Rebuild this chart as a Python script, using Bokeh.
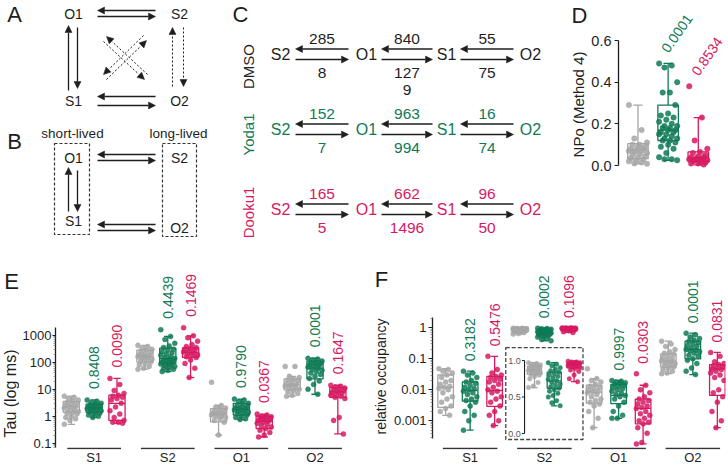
import math
from bokeh.plotting import figure
from bokeh.models import (Range1d, Arrow, NormalHead, FixedTicker,
                          PrintfTickFormatter, ColumnDataSource, LinearScale)
from bokeh.layouts import column, row
from bokeh.embed import file_html
from bokeh.resources import INLINE
from bokeh.core.properties import value

FONT = "Liberation Sans"
INK = "#1e1e1e"
GRAY = "#a6a6a6"
GREEN = "#0f7a55"
MAGENTA = "#d61a62"
GROUP_COLORS = [GRAY, GREEN, MAGENTA]

# ======================= DATA =======================
conditions = ["DMSO", "Yoda1", "Dooku1"]
condition_colors = [INK, GREEN, MAGENTA]
states = ["S1", "S2", "O1", "O2"]

# Panel C: transition rates per condition (DMSO, Yoda1, Dooku1)
rate_O1_to_S2 = [285, 152, 165]
rate_S2_to_O1 = [8, 7, 5]
rate_S1_to_O1 = [840, 963, 662]
rate_O1_to_S1 = [1279, 994, 1496]
rate_O2_to_S1 = [55, 16, 96]
rate_S1_to_O2 = [75, 74, 50]

# Panel D: NPo (Method 4)
npo_dmso = [0.29, 0.17, 0.13, 0.11, 0.10, 0.10, 0.09, 0.09, 0.08, 0.08, 0.075, 0.07,
            0.07, 0.065, 0.06, 0.055, 0.05, 0.045, 0.04, 0.035, 0.03, 0.025, 0.02,
            0.015, 0.01, 0.008]
npo_yoda1 = [0.49, 0.48, 0.47, 0.40, 0.35, 0.35, 0.29, 0.25, 0.24, 0.23, 0.22, 0.21,
             0.20, 0.19, 0.19, 0.18, 0.18, 0.17, 0.17, 0.16, 0.16, 0.15, 0.15, 0.14,
             0.13, 0.13, 0.12, 0.12, 0.11, 0.10, 0.09, 0.08, 0.06, 0.04, 0.03, 0.03, 0.025]
npo_dooku1 = [0.38, 0.23, 0.12, 0.08, 0.065, 0.06, 0.05, 0.045, 0.04, 0.04, 0.035, 0.03,
              0.03, 0.025, 0.025, 0.02, 0.02, 0.015, 0.01, 0.01, 0.005]
# box stats: (whisker low, q1, median, q3, whisker high)
npo_box = [(0.008, 0.033, 0.075, 0.105, 0.29),
           (0.025, 0.12, 0.17, 0.29, 0.49),
           (0.003, 0.02, 0.038, 0.065, 0.23)]
npo_pvalues = ["", "0.0001", "0.8534"]
npo_ticks = [0.0, 0.2, 0.4, 0.6]

# Panel E: Tau (ms)
tau_S1_dmso = [5.5, 5.0, 4.5, 4.0, 3.6, 3.2, 3.0, 2.8, 2.5, 2.3, 2.2, 2.0, 1.8, 1.6, 1.5,
               1.4, 1.3, 1.2, 1.0, 0.9, 0.8, 0.7, 0.5]
tau_S1_yoda1 = [4.0, 3.6, 3.2, 3.0, 2.8, 2.6, 2.4, 2.3, 2.2, 2.1, 2.0, 1.9, 1.8, 1.7, 1.6,
                1.5, 1.4, 1.3, 1.2, 1.1, 1.0, 0.9]
tau_S1_dooku1 = [25, 15, 9, 7, 6, 5.5, 5, 4.5, 4, 3, 2.2, 1.6, 1.2, 0.9, 0.7, 0.6, 0.6, 0.55]
tau_S2_dmso = [420, 380, 330, 300, 280, 250, 230, 210, 190, 180, 170, 160, 150, 140, 130,
               120, 110, 100, 90, 80, 70, 60, 55]
tau_S2_yoda1 = [1600, 900, 700, 500, 400, 350, 300, 280, 250, 220, 200, 180, 160, 150, 140,
                130, 120, 115, 110, 100, 95, 90, 85, 80, 75, 70, 65, 60, 55, 50, 45]
tau_S2_dooku1 = [1900, 950, 800, 600, 450, 380, 350, 320, 300, 280, 260, 240, 220, 200, 190,
                 180, 160, 150, 120, 90, 60, 27]
tau_O1_dmso = [18, 2.5, 2.2, 2.0, 1.8, 1.6, 1.5, 1.4, 1.3, 1.2, 1.2, 1.1, 1.0, 1.0, 0.9,
               0.8, 0.7, 0.6, 0.2]
tau_O1_yoda1 = [4.3, 4.0, 3.5, 3.0, 2.8, 2.5, 2.3, 2.2, 2.0, 1.9, 1.8, 1.7, 1.6, 1.5, 1.4,
                1.3, 1.2, 1.1, 1.0, 0.9, 0.8, 0.75]
tau_O1_dooku1 = [1.2, 1.1, 1.0, 0.95, 0.9, 0.85, 0.8, 0.75, 0.7, 0.65, 0.6, 0.55, 0.5, 0.45,
                 0.4, 0.35, 0.3, 0.25, 0.2, 0.17]
tau_O2_dmso = [70, 70, 30, 27, 24, 22, 20, 18, 16, 15, 14, 13, 12, 11, 10, 9, 8, 7, 6, 5.5]
tau_O2_yoda1 = [140, 130, 120, 110, 100, 95, 90, 85, 80, 75, 70, 65, 60, 55, 50, 45, 40, 35,
                30, 25, 20, 15, 10, 6.5]
tau_O2_dooku1 = [14, 13, 12, 11, 10, 9.5, 9, 8, 7.5, 7, 6.5, 6, 5.5, 5, 4.5, 0.9, 0.7, 0.22]
tau_box_S1 = [(0.5, 1.4, 2.2, 3.5, 5.5), (0.9, 1.4, 2.0, 2.8, 4.0), (0.55, 0.7, 3.0, 6.0, 25)]
tau_box_S2 = [(55, 100, 165, 280, 420), (45, 90, 135, 330, 900), (27, 150, 230, 340, 950)]
tau_box_O1 = [(0.2, 0.62, 1.2, 1.9, 2.5), (0.75, 1.1, 1.8, 3.0, 4.3), (0.17, 0.35, 0.65, 1.0, 1.2)]
tau_box_O2 = [(5.5, 9.5, 14.5, 24, 30), (6.5, 24, 60, 110, 140), (0.22, 5, 8, 11.5, 14)]
tau_p_yoda1 = ["0.8408", "0.4439", "0.9790", "0.0001"]
tau_p_dooku1 = ["0.0090", "0.1469", "0.0367", "0.1647"]
tau_ticks = [0.1, 1, 10, 100, 1000]

# Panel F: relative occupancy
occ_S1_dmso = [0.048, 0.045, 0.04, 0.035, 0.03, 0.025, 0.02, 0.018, 0.015, 0.013, 0.012,
               0.011, 0.01, 0.008, 0.006, 0.005, 0.004, 0.003, 0.0025, 0.002, 0.0015]
occ_S1_yoda1 = [0.04, 0.035, 0.03, 0.025, 0.02, 0.018, 0.016, 0.014, 0.012, 0.011, 0.01,
                0.009, 0.008, 0.007, 0.006, 0.005, 0.0045, 0.004, 0.003, 0.002, 0.0015,
                0.001, 0.0005]
occ_S1_dooku1 = [0.12, 0.045, 0.035, 0.03, 0.027, 0.025, 0.022, 0.02, 0.018, 0.015, 0.012,
                 0.01, 0.009, 0.008, 0.006, 0.005, 0.004, 0.003, 0.002, 0.0015, 0.001, 0.0007]
occ_S2_dmso = [0.97, 0.96, 0.95, 0.94, 0.93, 0.92, 0.91, 0.9, 0.89, 0.88, 0.87, 0.86, 0.85,
               0.84, 0.83, 0.82, 0.81, 0.8, 0.78, 0.75, 0.7, 0.65, 0.63]
occ_S2_yoda1 = [0.97, 0.95, 0.93, 0.9, 0.88, 0.86, 0.84, 0.82, 0.8, 0.78, 0.76, 0.74, 0.72,
                0.7, 0.68, 0.66, 0.64, 0.62, 0.6, 0.58, 0.55, 0.52, 0.5, 0.45, 0.42, 0.38]
occ_S2_dooku1 = [0.99, 0.98, 0.98, 0.97, 0.97, 0.96, 0.96, 0.95, 0.95, 0.94, 0.94, 0.93,
                 0.92, 0.91, 0.9, 0.89, 0.87, 0.85, 0.8, 0.75, 0.71]
occ_O1_dmso = [0.048, 0.023, 0.02, 0.018, 0.015, 0.013, 0.012, 0.011, 0.01, 0.009, 0.0085,
               0.008, 0.007, 0.006, 0.005, 0.0045, 0.004, 0.0035, 0.003, 0.002, 0.0012, 0.0006]
occ_O1_yoda1 = [0.02, 0.019, 0.018, 0.017, 0.016, 0.015, 0.014, 0.013, 0.012, 0.011, 0.01,
                0.009, 0.008, 0.007, 0.0065, 0.006, 0.005, 0.004, 0.003, 0.002, 0.0015,
                0.0012, 0.0012]
occ_O1_dooku1 = [0.033, 0.014, 0.01, 0.008, 0.006, 0.005, 0.0045, 0.004, 0.0035, 0.003,
                 0.0027, 0.0025, 0.002, 0.0017, 0.0015, 0.0012, 0.001, 0.0009, 0.0008,
                 0.0006, 0.0004, 0.0002, 0.00018]
occ_O2_dmso = [0.37, 0.3, 0.25, 0.2, 0.17, 0.15, 0.14, 0.12, 0.11, 0.1, 0.09, 0.085, 0.08,
               0.075, 0.07, 0.065, 0.06, 0.055, 0.05, 0.045, 0.04, 0.035, 0.033]
occ_O2_yoda1 = [0.67, 0.6, 0.5, 0.45, 0.4, 0.37, 0.33, 0.3, 0.27, 0.25, 0.22, 0.2, 0.19, 0.18,
                0.17, 0.15, 0.13, 0.12, 0.1, 0.09, 0.07, 0.05, 0.04, 0.031]
occ_O2_dooku1 = [0.16, 0.12, 0.08, 0.07, 0.065, 0.06, 0.055, 0.05, 0.047, 0.045, 0.04, 0.035,
                 0.03, 0.025, 0.02, 0.01, 0.008, 0.006, 0.004, 0.002, 0.001, 0.0006]
occ_box_S1 = [(0.0015, 0.0027, 0.012, 0.03, 0.048), (0.0005, 0.0043, 0.0095, 0.018, 0.04),
              (0.0007, 0.0029, 0.0095, 0.027, 0.12)]
occ_box_S2 = [(0.63, 0.81, 0.87, 0.92, 0.97), (0.38, 0.62, 0.72, 0.84, 0.97),
              (0.71, 0.9, 0.94, 0.97, 0.99)]
occ_box_O1 = [(0.0006, 0.0037, 0.0084, 0.014, 0.023), (0.0012, 0.0036, 0.0066, 0.015, 0.02),
              (0.00018, 0.0008, 0.0025, 0.005, 0.014)]
occ_box_O2 = [(0.033, 0.054, 0.084, 0.145, 0.37), (0.031, 0.1, 0.2, 0.37, 0.67),
              (0.0006, 0.0066, 0.047, 0.065, 0.16)]
occ_p_yoda1 = ["0.3182", "0.0002", "0.9997", "0.0001"]
occ_p_dooku1 = ["0.5476", "0.1096", "0.0303", "0.0831"]
occ_ticks = [0.001, 0.01, 0.1, 1]
occ_inset_ticks = [0.0, 0.5, 1.0]

# ======================= HELPERS =======================
def base_fig(**kw):
    p = figure(output_backend="svg", toolbar_location=None, **kw)
    p.grid.visible = False
    p.outline_line_color = None
    p.background_fill_color = "white"
    p.border_fill_color = "white"
    return p


def diagram_fig(width, height, xr, yr, top=0, bottom=0):
    p = base_fig(width=width, height=height, x_range=Range1d(*xr), y_range=Range1d(*yr),
                 min_border_left=0, min_border_right=0, min_border_top=top,
                 min_border_bottom=bottom)
    p.xaxis.visible = False
    p.yaxis.visible = False
    return p


def texts(p, x, y, t, size, color=INK, align="center", baseline="middle", angle=0.0, **kw):
    p.text(x=x, y=y, text=t, text_font=value(FONT), text_font_size=size, text_color=color,
           text_align=align, text_baseline=baseline, angle=angle, **kw)


def arrows(p, x0, y0, x1, y1, dash="solid", lw=1.3, head=7):
    src = ColumnDataSource(dict(x0=x0, y0=y0, x1=x1, y1=y1))
    p.add_layout(Arrow(end=NormalHead(size=head, fill_color=INK, line_color=INK, line_width=0.5),
                       x_start="x0", y_start="y0", x_end="x1", y_end="y1", source=src,
                       line_color=INK, line_width=lw, line_dash=dash))


def jitter(n, width):
    return [width * (((i * 7) % 11) / 10.0 - 0.5) for i in range(n)]


def box_group(p, xc, pts, stats, color, bw, jw, rname=None, size=5.0):
    lo, q1, med, q3, hi = stats
    kw = {"y_range_name": rname} if rname else {}
    cw = bw * 0.45
    p.quad(left=[xc - bw / 2], right=[xc + bw / 2], bottom=[q1], top=[q3], fill_color=None,
           line_color=color, line_width=1.3, **kw)
    p.segment(x0=[xc - bw / 2, xc, xc, xc - cw / 2, xc - cw / 2],
              x1=[xc + bw / 2, xc, xc, xc + cw / 2, xc + cw / 2],
              y0=[med, q3, q1, hi, lo], y1=[med, hi, lo, hi, lo],
              line_color=color, line_width=1.3, **kw)
    xs = [xc + j for j in jitter(len(pts), jw)]
    p.scatter(x=xs, y=pts, size=size, marker="circle", fill_color=color, line_color=color,
              fill_alpha=0.85, line_alpha=0.85, line_width=0.5, **kw)


def style_yaxis(ax, ticks, minor, bounds, fmt, fs, tick_out=4, standoff=3):
    minor = [m for m in minor if bounds[0] <= m <= bounds[1]]
    ax.ticker = FixedTicker(ticks=ticks, minor_ticks=minor)
    ax.bounds = bounds
    ax.formatter = PrintfTickFormatter(format=fmt)
    ax.major_label_text_font = FONT
    ax.major_label_text_font_size = fs
    ax.major_label_text_color = INK
    ax.axis_line_color = INK
    ax.axis_line_width = 1.3
    ax.major_tick_line_color = INK
    ax.major_tick_line_width = 1.2
    ax.major_tick_out = tick_out
    ax.major_tick_in = 0
    ax.minor_tick_out = 2
    ax.minor_tick_in = 0
    ax.minor_tick_line_color = "#666666"
    ax.minor_tick_line_width = 0.6
    ax.major_label_standoff = standoff


def style_xaxis(ax):
    ax.ticker = FixedTicker(ticks=list(range(len(states))))
    ax.major_label_overrides = {i: s for i, s in enumerate(states)}
    ax.axis_line_color = None
    ax.major_tick_line_color = None
    ax.minor_tick_line_color = None
    ax.major_tick_out = 0
    ax.major_tick_in = 0
    ax.minor_tick_out = 0
    ax.major_label_standoff = 0
    ax.major_label_text_font = FONT
    ax.major_label_text_font_size = "13px"
    ax.major_label_text_color = INK


def log_minor(decades):
    out = []
    for d in decades:
        out += [d * k for k in range(2, 10)]
    return out

# ======================= PANELS A & B =======================
pAB = diagram_fig(228, 240, (0, 228), (240, 0))
texts(pAB, [14, 14], [14, 141], ["A", "B"], "22px")
texts(pAB, [73, 179, 73, 179], [13, 13, 100, 100], ["O1", "S2", "S1", "O2"], "14px")
arrows(pAB, [155, 97, 155, 97, 68, 77], [10, 16, 96, 105, 90, 27],
       [97, 155, 97, 155, 68, 77], [10, 16, 96, 105, 25, 88])
arrows(pAB, [172, 183, 147, 103, 106, 143], [86, 27, 74, 41, 79, 35],
       [172, 183, 106, 144, 146, 103], [27, 86, 36, 79, 40, 74], dash="2 2", lw=1.0)
texts(pAB, [73, 73, 179, 179], [157, 220, 157, 227], ["O1", "S1", "S2", "O2"], "14px")
texts(pAB, [72, 178], [133, 133], ["short-lived", "long-lived"], "13.5px")
arrows(pAB, [155, 97, 155, 97, 68, 77], [154, 160, 224, 230, 211, 170],
       [97, 155, 97, 155, 68, 77], [154, 160, 224, 230, 167, 211])
pAB.quad(left=[54, 162], right=[89, 196], top=[143, 143], bottom=[234, 236], fill_color=None,
         line_color="#333333", line_width=1.2, line_dash="3 2")

# ======================= PANEL C =======================
pC = diagram_fig(342, 240, (228, 570), (240, 0))
texts(pC, [240], [14], ["C"], "22px")
row_y = [54, 129, 209]
row_label_y = [66, 134, 212]
state_x = [280, 366, 446, 530]
pair_x = [(295, 348), (381, 432), (460, 513)]
for ci, cond in enumerate(conditions):
    c = row_y[ci]
    col = condition_colors[ci]
    texts(pC, [248], [row_label_y[ci]], [cond], "15px", color=col, angle=math.pi / 2)
    texts(pC, state_x, [c] * 4, ["S2", "O1", "S1", "O2"], "16px", color=col)
    top_rates = [rate_O1_to_S2[ci], rate_S1_to_O1[ci], rate_O2_to_S1[ci]]
    bot_rates = [rate_S2_to_O1[ci], rate_O1_to_S1[ci], rate_S1_to_O2[ci]]
    arrows(pC, [b for a, b in pair_x], [c - 5.5] * 3, [a for a, b in pair_x], [c - 5.5] * 3)
    arrows(pC, [a for a, b in pair_x], [c + 5] * 3, [b for a, b in pair_x], [c + 5] * 3)
    mids = [(a + b) / 2 for a, b in pair_x]
    texts(pC, mids, [c - 16] * 3, [str(v) for v in top_rates], "15.5px", color=col)
    for k, v in enumerate(bot_rates):
        s = str(v)
        lines = [s[:3], s[3:]] if (ci == 0 and len(s) > 3) else [s]
        texts(pC, [mids[k]] * len(lines), [c + 18 + 17 * j for j in range(len(lines))], lines,
              "15.5px", color=col)

# ======================= PANEL D =======================
pDlab = diagram_fig(18, 240, (570, 588), (240, 0))
texts(pDlab, [579], [15], ["D"], "22px")
texts(pDlab, [578], [104], ["NPo (Method 4)"], "15px", angle=math.pi / 2)

pD = base_fig(width=139, height=240, x_range=Range1d(-0.645, 2.935),
              y_range=Range1d(-0.360, 0.792), min_border_left=27, min_border_right=1,
              min_border_top=0, min_border_bottom=0)
pD.xaxis.visible = False
style_yaxis(pD.yaxis[0], npo_ticks, [], (0, 0.6), "%.1f", "14.5px")
for i, pts in enumerate([npo_dmso, npo_yoda1, npo_dooku1]):
    box_group(pD, i, pts, npo_box[i], GROUP_COLORS[i], 0.68, 0.6, size=5.5)
    if npo_pvalues[i]:
        texts(pD, [i - 0.12], [max(pts) + 0.06], [npo_pvalues[i]], "14px",
              color=GROUP_COLORS[i], align="left", angle=0.96)

# ======================= PANEL E =======================
BOT_TOP, BOT_BOTTOM = 26, 19
pElab = diagram_fig(19, 228, (0, 19), (449, 266), top=BOT_TOP, bottom=BOT_BOTTOM)
texts(pElab, [11], [281], ["E"], "22px")
texts(pElab, [10], [393], ["Tau (log ms)"], "16px", angle=math.pi / 2)

offs = [-0.31, 0.0, 0.31]
pE = base_fig(width=343, height=228, x_range=Range1d(-0.525, 3.55),
              y_range=Range1d(10 ** -1.233, 10 ** 5.544), y_axis_type="log",
              min_border_left=33, min_border_right=7, min_border_top=BOT_TOP,
              min_border_bottom=BOT_BOTTOM)
style_yaxis(pE.yaxis[0], tau_ticks, log_minor([0.01, 0.1, 1, 10, 100, 1000]),
            (0.069, 1930), "%g", "13px", tick_out=3, standoff=1)
style_xaxis(pE.xaxis[0])
tau_groups = [[tau_S1_dmso, tau_S1_yoda1, tau_S1_dooku1],
              [tau_S2_dmso, tau_S2_yoda1, tau_S2_dooku1],
              [tau_O1_dmso, tau_O1_yoda1, tau_O1_dooku1],
              [tau_O2_dmso, tau_O2_yoda1, tau_O2_dooku1]]
tau_boxes = [tau_box_S1, tau_box_S2, tau_box_O1, tau_box_O2]
for s in range(4):
    for g in range(3):
        box_group(pE, s + offs[g], tau_groups[s][g], tau_boxes[s][g], GROUP_COLORS[g], 0.22, 0.19)
pE.segment(x0=[s - 0.365 for s in range(4)], x1=[s + 0.365 for s in range(4)],
           y0=[0.0636] * 4, y1=[0.0636] * 4, line_color="#333333", line_width=1.5)
texts(pE, [s + offs[1] for s in range(4)], [max(tau_groups[s][1]) * 2.55 for s in range(4)],
      tau_p_yoda1, "14px", color=GREEN, align="left", angle=math.pi / 2)
texts(pE, [s + offs[2] for s in range(4)], [max(tau_groups[s][2]) * 2.55 for s in range(4)],
      tau_p_dooku1, "14px", color=MAGENTA, align="left", angle=math.pi / 2)

# ======================= PANEL F =======================
pFlab = diagram_fig(28, 228, (362, 390), (449, 266), top=BOT_TOP, bottom=BOT_BOTTOM)
texts(pFlab, [381], [279], ["F"], "22px")
texts(pFlab, [380], [376], ["relative occupancy"], "14px", angle=math.pi / 2)

offsF = [-0.33, 0.0, 0.33]
pF = base_fig(width=337, height=228, x_range=Range1d(-0.507, 3.44),
              y_range=Range1d(10 ** -3.926, 10 ** 1.977), y_axis_type="log",
              min_border_left=39, min_border_right=2, min_border_top=BOT_TOP,
              min_border_bottom=BOT_BOTTOM)
pF.extra_y_ranges = {"inset": Range1d(-0.219, 2.288)}
pF.extra_y_scales = {"inset": LinearScale()}
style_yaxis(pF.yaxis[0], occ_ticks, log_minor([0.0001, 0.001, 0.01, 0.1, 1]),
            (0.00027, 2.2), "%g", "13px", tick_out=4, standoff=2)
style_xaxis(pF.xaxis[0])
occ_groups = [[occ_S1_dmso, occ_S1_yoda1, occ_S1_dooku1],
              [occ_S2_dmso, occ_S2_yoda1, occ_S2_dooku1],
              [occ_O1_dmso, occ_O1_yoda1, occ_O1_dooku1],
              [occ_O2_dmso, occ_O2_yoda1, occ_O2_dooku1]]
occ_boxes = [occ_box_S1, occ_box_S2, occ_box_O1, occ_box_O2]
for s in range(4):
    for g in range(3):
        box_group(pF, s + offsF[g], occ_groups[s][g], occ_boxes[s][g], GROUP_COLORS[g], 0.21, 0.18)
pF.segment(x0=[s - 0.367 for s in range(4)], x1=[s + 0.367 for s in range(4)],
           y0=[1.28e-4] * 4, y1=[1.28e-4] * 4, line_color="#333333", line_width=1.5)
texts(pF, [s + offsF[1] for s in range(4)], [max(occ_groups[s][1]) * 2.1 for s in range(4)],
      occ_p_yoda1, "14px", color=GREEN, align="left", angle=math.pi / 2)
texts(pF, [s + offsF[2] for s in range(4)], [max(occ_groups[s][2]) * 2.1 for s in range(4)],
      occ_p_dooku1, "14px", color=MAGENTA, align="left", angle=math.pi / 2)

# inset: S2 occupancy on a linear scale
pF.quad(left=[0.48], right=[1.52], bottom=[-0.082], top=[1.178], fill_color="white",
        line_color="#444444", line_width=1.3, line_dash="4 2", y_range_name="inset")
inset_ax_x = 0.733
pF.segment(x0=[inset_ax_x], x1=[inset_ax_x], y0=[min(occ_inset_ticks)], y1=[max(occ_inset_ticks)],
           line_color=INK, line_width=1.1, y_range_name="inset")
pF.segment(x0=[inset_ax_x - 0.035] * 3, x1=[inset_ax_x] * 3, y0=occ_inset_ticks, y1=occ_inset_ticks,
           line_color=INK, line_width=1.0, y_range_name="inset")
texts(pF, [inset_ax_x - 0.05] * 3, occ_inset_ticks, ["%.1f" % t for t in occ_inset_ticks], "9px",
      color="#555555", align="right", y_range_name="inset")
inset_x = [1 - 0.133, 1 + 0.133, 1 + 0.4]
for g in range(3):
    box_group(pF, inset_x[g], occ_groups[1][g], occ_boxes[1][g], GROUP_COLORS[g], 0.19, 0.16,
              rname="inset", size=4.5)

layout = column(row(pAB, pC, pDlab, pD), row(pElab, pE, pFlab, pF))
open("out.html", "w").write(file_html(layout, INLINE))
